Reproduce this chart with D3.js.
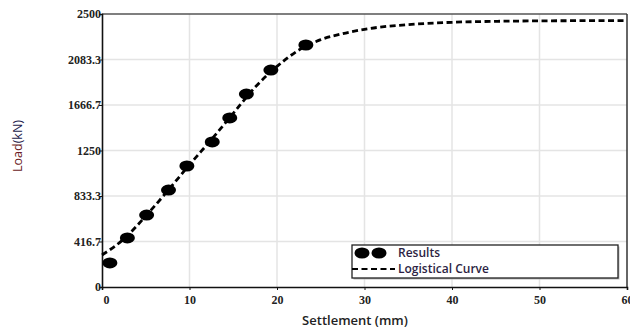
<!DOCTYPE html>
<html>
<head>
<meta charset="utf-8">
<script src="https://cdn.jsdelivr.net/npm/d3@7"></script>
<style>
    body { margin: 0; background: #fff; }
    svg { display: block; }
</style>
</head>
<body>
<svg id="chart" width="630" height="331"></svg>
<script>
'use strict';

// measured results
const resultX = [0.9, 2.9, 5.1, 7.6, 9.7, 12.6, 14.6, 16.5, 19.3, 23.3];
const resultY = [220, 449, 659, 888, 1108, 1328, 1548, 1767, 1987, 2216];

// fitted logistic curve
const curveX = [0, 2.5, 5, 7.5, 10, 12.5, 15, 17.5, 20, 22.5, 25, 27.5, 30, 35, 40, 45, 50, 55, 60];
const curveY = [293, 440, 650, 880, 1120, 1350, 1590, 1830, 2020, 2170, 2265, 2320, 2360, 2403, 2424, 2433, 2437, 2439, 2440];

const xTicks = [0, 10, 20, 30, 40, 50, 60];
const yTicks = [0, 416.7, 833.3, 1250, 1666.7, 2083.3, 2500];

const svg = d3.select('#chart');
const margin = { left: 102, right: 3, top: 14, bottom: 44 };
const width = 630 - margin.left - margin.right;
const height = 331 - margin.top - margin.bottom;

const x = d3.scaleLinear().domain([0, 60]).range([0, width]);
const y = d3.scaleLinear().domain([0, 2500]).range([height, 0]);

const g = svg.append('g')
    .attr('transform', `translate(${margin.left},${margin.top})`);

// grid
g.selectAll('line.vgrid').data(xTicks.slice(1, -1)).enter().append('line')
    .attr('class', 'vgrid')
    .attr('x1', d => x(d)).attr('x2', d => x(d))
    .attr('y1', 0).attr('y2', height)
    .attr('stroke', '#e4e4e4').attr('stroke-width', 1.5);

g.selectAll('line.hgrid').data(yTicks.slice(1, -1)).enter().append('line')
    .attr('class', 'hgrid')
    .attr('x1', 0).attr('x2', width)
    .attr('y1', d => y(d)).attr('y2', d => y(d))
    .attr('stroke', '#e4e4e4').attr('stroke-width', 1.5);

// frame
g.append('line').attr('x1', 0).attr('x2', width).attr('y1', 0).attr('y2', 0)
    .attr('stroke', '#555').attr('stroke-width', 1.5);
g.append('line').attr('x1', width).attr('x2', width).attr('y1', 0).attr('y2', height)
    .attr('stroke', '#333').attr('stroke-width', 1.5);

// axes
const xAxis = g.append('g')
    .attr('transform', `translate(0,${height})`)
    .call(d3.axisBottom(x).tickValues(xTicks).tickSize(3).tickFormat(d3.format('d')));
const yAxis = g.append('g')
    .call(d3.axisLeft(y).tickValues(yTicks).tickSize(3).tickFormat(d => String(d)));

[xAxis, yAxis].forEach(a => {
    a.select('.domain').attr('stroke', '#111').attr('stroke-width', 1.6);
    a.selectAll('.tick line').attr('stroke', '#111');
    a.selectAll('.tick text')
        .attr('fill', '#222')
        .style('font-family', '"Liberation Serif", serif')
        .style('font-size', '12px')
        .style('font-weight', 'bold');
});
xAxis.selectAll('.tick text').attr('dy', '0.9em');
xAxis.selectAll('.tick').filter(d => d === 0).select('text').attr('dx', 4);
yAxis.selectAll('.tick text').attr('x', -1);

// logistic curve
const line = d3.line()
    .x((d, i) => x(curveX[i]))
    .y(d => y(d))
    .curve(d3.curveMonotoneX);

g.append('path')
    .datum(curveY)
    .attr('d', line)
    .attr('fill', 'none')
    .attr('stroke', '#000')
    .attr('stroke-width', 2.8)
    .attr('stroke-dasharray', '6,3.5');

// results
g.selectAll('ellipse.result').data(resultY).enter().append('ellipse')
    .attr('class', 'result')
    .attr('cx', (d, i) => x(resultX[i]))
    .attr('cy', d => y(d))
    .attr('rx', 7.5)
    .attr('ry', 5.5)
    .attr('fill', '#000');

// axis titles
svg.append('text')
    .attr('transform', 'translate(22,146) rotate(-90)')
    .attr('text-anchor', 'middle')
    .style('font-family', '"Open Sans", sans-serif')
    .style('font-size', '12.5px')
    .call(t => {
        t.append('tspan').attr('fill', '#6b1a24').text('Load');
        t.append('tspan').attr('fill', '#1c1a4a').text('(kN)');
    });

svg.append('text')
    .attr('x', 355).attr('y', 325)
    .attr('text-anchor', 'middle')
    .attr('fill', '#222')
    .style('font-family', '"Open Sans", sans-serif')
    .style('font-size', '13px')
    .style('font-weight', '600')
    .text('Settlement (mm)');

// legend
const legend = svg.append('g').attr('transform', 'translate(352,245)');
legend.append('rect')
    .attr('x', 1.5).attr('y', 1.5)
    .attr('width', 266).attr('height', 33)
    .attr('fill', '#bbb');
legend.append('rect')
    .attr('width', 266).attr('height', 33)
    .attr('fill', '#fff')
    .attr('stroke', '#222').attr('stroke-width', 1.3);
legend.selectAll('ellipse').data([10, 27]).enter().append('ellipse')
    .attr('cx', d => d).attr('cy', 8)
    .attr('rx', 7.5).attr('ry', 5.5)
    .attr('fill', '#000');
legend.append('line')
    .attr('x1', 0).attr('x2', 43).attr('y1', 24).attr('y2', 24)
    .attr('stroke', '#000').attr('stroke-width', 2)
    .attr('stroke-dasharray', '6,3.5');
legend.selectAll('text').data(['Results', 'Logistical Curve']).enter().append('text')
    .attr('x', 46)
    .attr('y', (d, i) => 12 + i * 16)
    .attr('fill', '#2d1f44')
    .style('font-family', '"Open Sans", sans-serif')
    .style('font-size', '12px')
    .style('font-weight', '600')
    .text(d => d);
</script>
</body>
</html>
